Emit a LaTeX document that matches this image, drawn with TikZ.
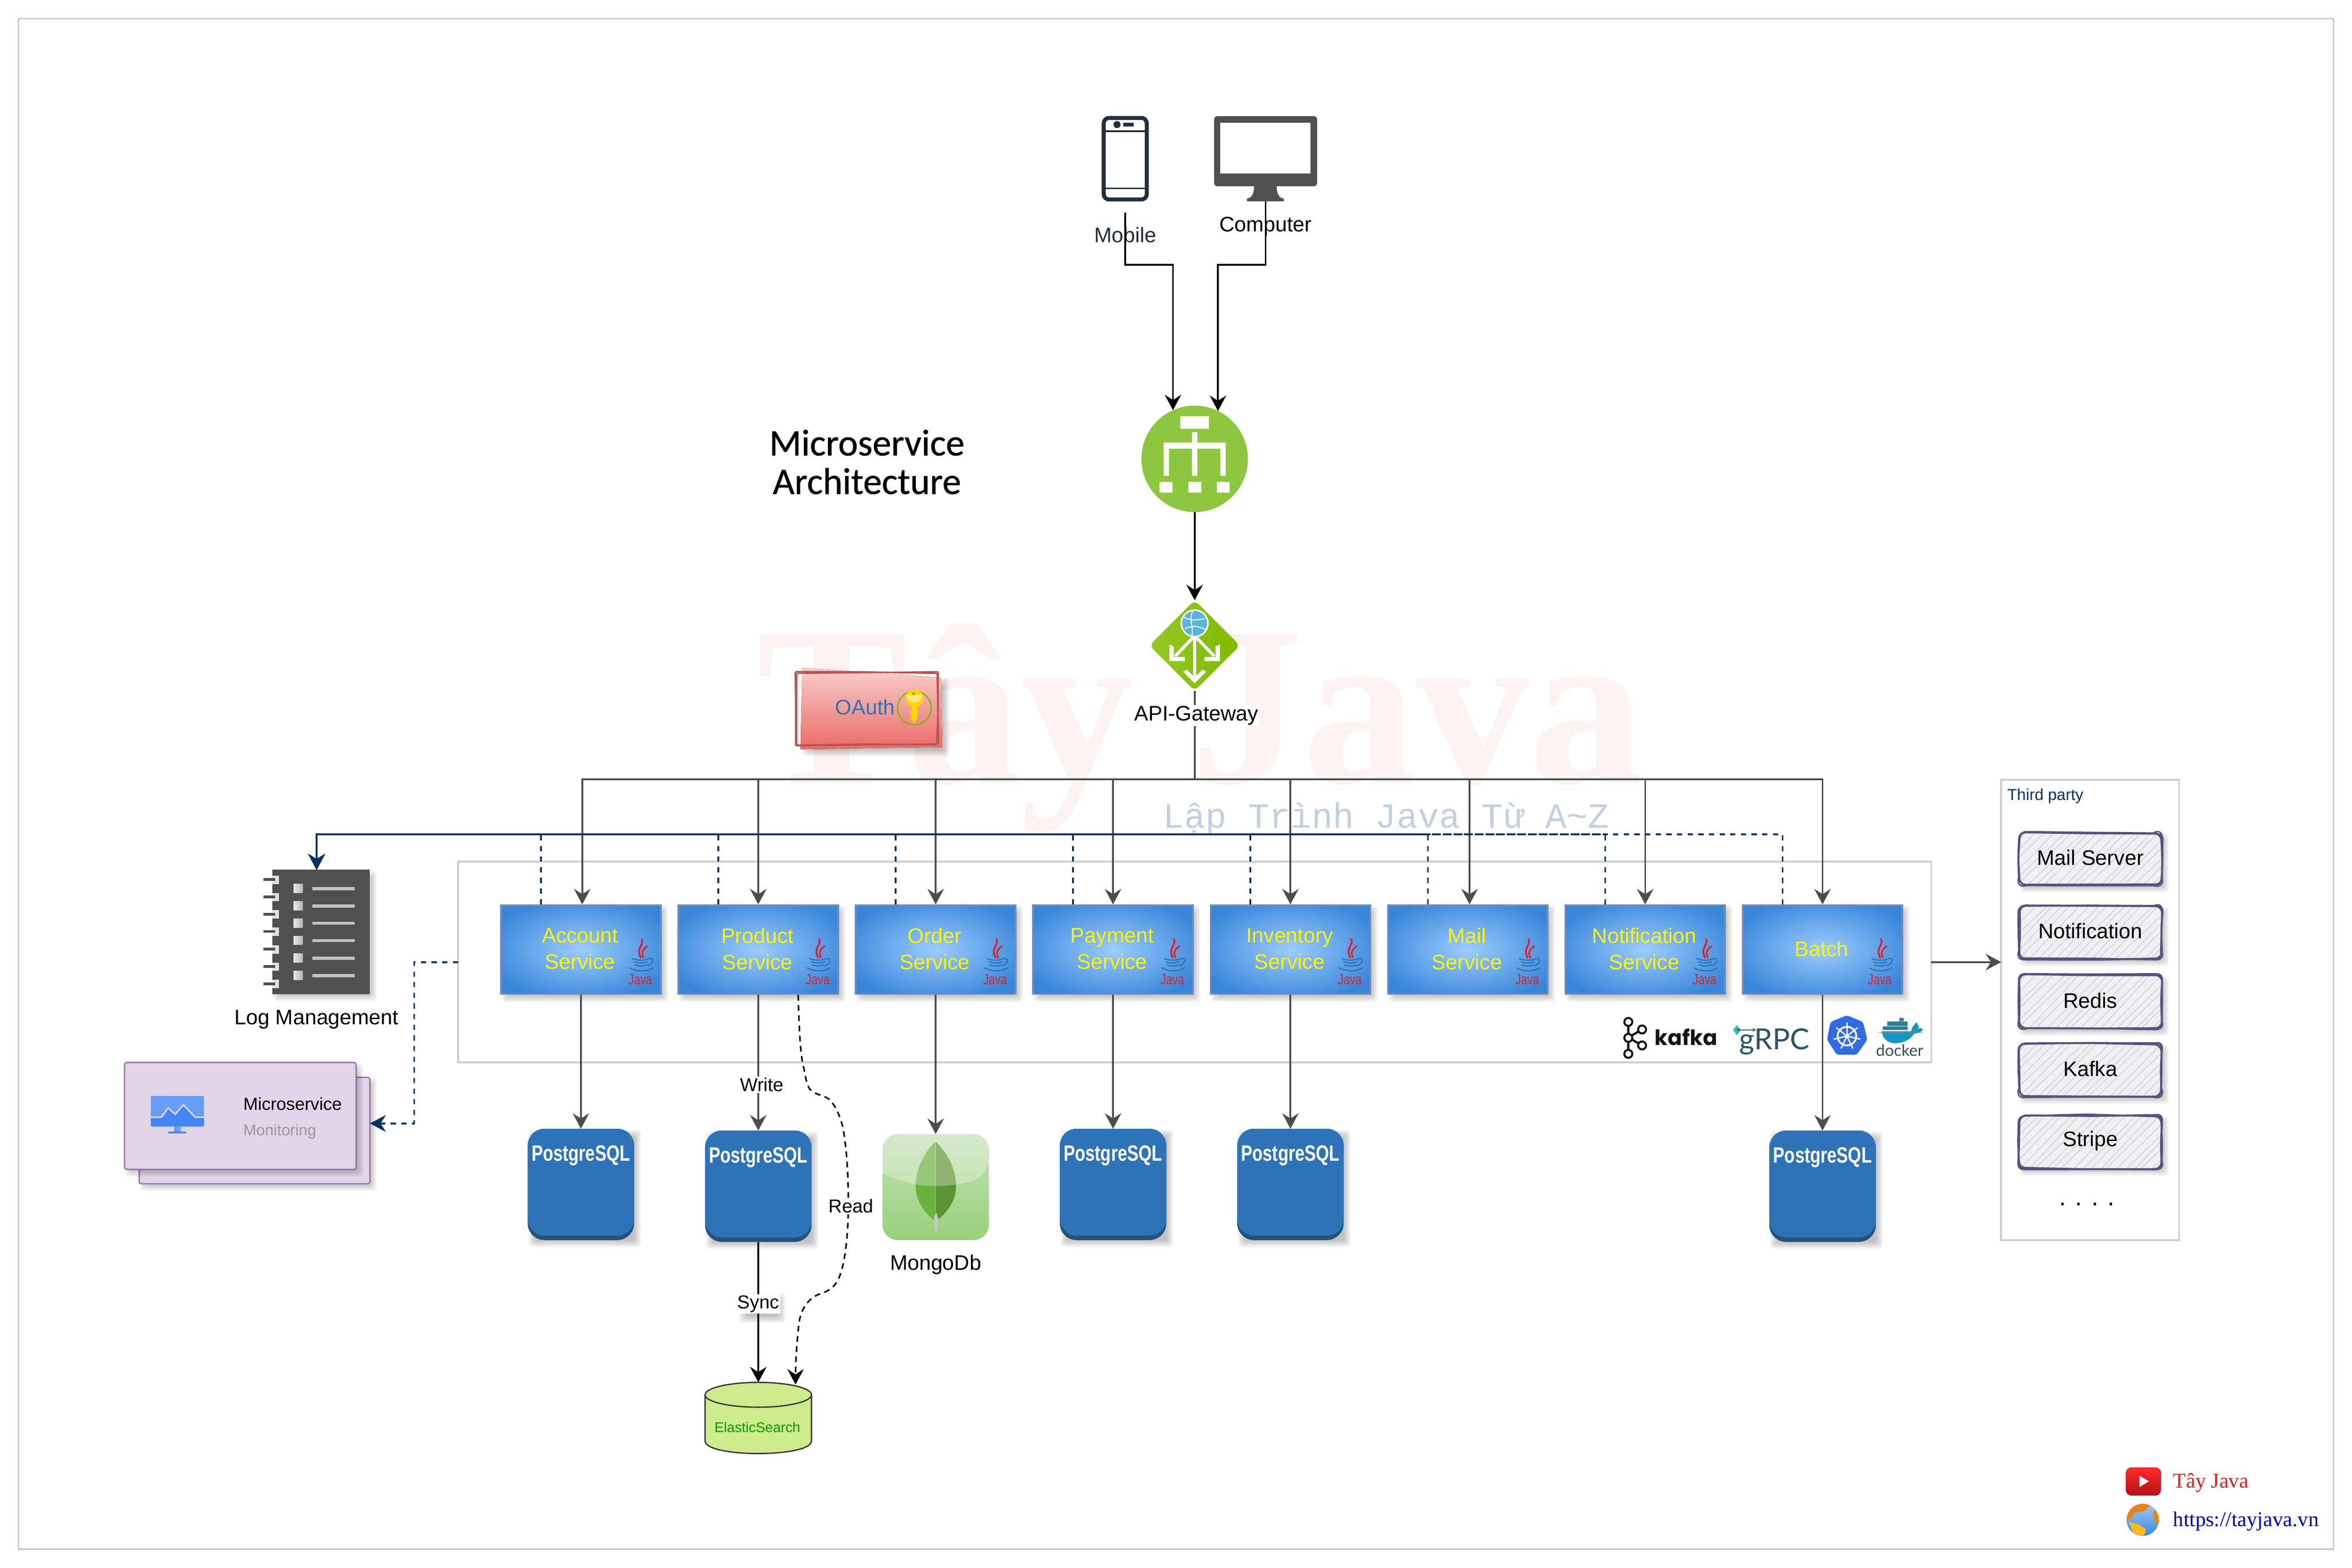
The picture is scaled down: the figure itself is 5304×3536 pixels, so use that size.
\documentclass[tikz,border=0pt]{standalone}
\usepackage{fontspec}
\usepackage{graphicx}
\usetikzlibrary{arrows.meta,shapes.geometric,calc}
\setmainfont{Liberation Sans}
\newfontfamily\wserif{Liberation Serif}
\newfontfamily\wmono{Liberation Mono}
\newfontfamily\titlefont[FakeBold=0.7]{Carlito}
\newfontfamily\popfont{Poppins}
\newfontfamily\latofont{Lato}
\definecolor{cline}{HTML}{4D4D4D}
\definecolor{navy}{HTML}{003366}
\definecolor{grayb}{HTML}{CCCCCC}
\definecolor{phone}{HTML}{232F3E}
\definecolor{lbg}{HTML}{8DC63F}
\definecolor{pgblue}{HTML}{2E73B8}
\definecolor{pgdark}{HTML}{23527F}
\definecolor{svcin}{HTML}{9CCCFE}
\definecolor{svcout}{HTML}{3885D9}
\definecolor{svcb}{HTML}{6C8EBF}
\definecolor{skline}{HTML}{56517E}
\definecolor{skhatch}{HTML}{D3D1EA}
\definecolor{javar}{HTML}{E21F26}
\definecolor{javab}{HTML}{2070AE}
\definecolor{cglobe}{HTML}{59B4D9}
\definecolor{cleaf}{HTML}{7FBA00}
\definecolor{ckey}{HTML}{FFD400}
\definecolor{ckeyl}{HTML}{FFE785}
\definecolor{ckeyd}{HTML}{B8860B}
\definecolor{cpurp}{HTML}{9673A6}
\definecolor{cmauve}{HTML}{E1D5E7}
\definecolor{cicona}{HTML}{669DF6}
\definecolor{ciconb}{HTML}{4285F4}
\definecolor{cla}{HTML}{6BB13F}
\definecolor{clb}{HTML}{5C9634}
\definecolor{ces}{HTML}{CDEB8B}
\definecolor{cesl}{HTML}{36393D}
\definecolor{cesg}{HTML}{009900}
\definecolor{ctr}{HTML}{DD2222}
\definecolor{curl}{HTML}{0000CC}
\definecolor{cga}{HTML}{A6C8E8}
\definecolor{cgb}{HTML}{2E8CF0}
\definecolor{corg}{HTML}{E9841A}
\definecolor{cyel}{HTML}{FBB81F}
\definecolor{cdka}{HTML}{2A7E96}
\definecolor{cdkb}{HTML}{1796C5}
\definecolor{cdkt}{HTML}{394D54}
\definecolor{ckube}{HTML}{326CE5}
\definecolor{cgra}{HTML}{3DBFB4}
\definecolor{cgrb}{HTML}{1F6E75}
\definecolor{cgrc}{HTML}{2A5566}
\definecolor{cmt}{HTML}{C4E2B5}
\definecolor{cmb}{HTML}{97D17A}
\definecolor{cot}{HTML}{F8CECC}
\definecolor{cob}{HTML}{EA6B66}
\definecolor{coln}{HTML}{B85450}
\definecolor{cyt}{HTML}{FF2A2A}
\definecolor{cyb}{HTML}{B31217}
\definecolor{cgl}{HTML}{95C825}
\definecolor{cgr}{HTML}{7FBA00}
\definecolor{cwm}{HTML}{FCF2F1}
\definecolor{csub}{HTML}{C2D0E1}
\definecolor{cdark}{HTML}{505050}
\pgfdeclareradialshading{svcshade}{\pgfpoint{0bp}{0bp}}{color(0bp)=(svcin); color(30bp)=(svcout); color(100bp)=(svcout)}
\newcommand\fa{\fontsize{13.5}{16.8}\selectfont}
\newcommand\fb{\fontsize{12}{14}\selectfont}
\newcommand\softshadow[4]{%
  \foreach \s in {-8,-5,-2,1,4,7}{%
    \fill[black,opacity=.045,rounded corners=.08cm] ({#1+9-\s},{#2+9-\s}) rectangle ({#3+9+\s},{#4+9+\s});}}
\newcommand\javalogo[2]{%
  \draw[javar,line width=.04cm,line cap=round] ({#1+29},{#2}) .. controls ({#1+36},{#2+12}) and ({#1+15},{#2+20}) .. ({#1+27},{#2+42});
  \draw[javar,line width=.035cm,line cap=round] ({#1+42},{#2+16}) .. controls ({#1+34},{#2+22}) and ({#1+26},{#2+28}) .. ({#1+33},{#2+42});
  \draw[javab,line width=.022cm,line cap=round]
    ({#1+8},{#2+44}) .. controls ({#1+18},{#2+49}) and ({#1+36},{#2+49}) .. ({#1+46},{#2+44})
    ({#1+12},{#2+51}) .. controls ({#1+20},{#2+55}) and ({#1+34},{#2+55}) .. ({#1+42},{#2+51})
    ({#1+14},{#2+58}) .. controls ({#1+20},{#2+62}) and ({#1+34},{#2+62}) .. ({#1+40},{#2+58})
    ({#1+46},{#2+44}) .. controls ({#1+58},{#2+42}) and ({#1+56},{#2+56}) .. ({#1+42},{#2+60})
    ({#1+2},{#2+65}) .. controls ({#1+18},{#2+74}) and ({#1+40},{#2+74}) .. ({#1+54},{#2+65});
  \node[inner sep=0,text=javar] at ({#1+26},{#2+91}) {\scalebox{.76}[1]{\fontsize{9.5}{10}\selectfont Java}};}
\newcommand\svc[4]{% name, left, text, java x offset
  \softshadow{#2}{2040}{#2+362}{2244}
  \node[svcbox] (#1) at ({#2+181},2142) {};
  \node[svctext] (#1t) at ({#2+179},2140) {#3};
  \javalogo{#2+#4}{2118}}
\newcommand\pgbox[3]{% name, cx, top
  \softshadow{#2-120}{#3}{#2+120}{#3+251}
  \node[pgnode] (#1) at (#2,{#3+125.5}) {};
  \fill[pgblue,rounded corners=.38cm] ({#2-120},#3) rectangle ({#2+120},{#3+241});
  \node[inner sep=0,text=white,anchor=base] (#1t) at (#2,{#3+73}) {\scalebox{.77}[1]{\fontsize{14.2}{16}\selectfont\bfseries PostgreSQL}};}
\newcommand\roughrect[6]{% colour/width options, x1 y1 x2 y2, jitter
  \draw[#1] ({#2+#6*rand},{#3+#6*rand}) -- ({(#2+#4)/2+20*rand},{#3+#6*rand}) -- ({#4+#6*rand},{#3+#6*rand}) -- ({#4+#6*rand},{(#3+#5)/2+8*rand}) -- ({#4+#6*rand},{#5+#6*rand}) -- ({(#2+#4)/2+20*rand},{#5+#6*rand}) -- ({#2+#6*rand},{#5+#6*rand}) -- ({#2+#6*rand},{(#3+#5)/2+8*rand}) -- cycle;}
\newcommand\sketchbox[7]{% name x1 y1 x2 y2 text seed
  \softshadow{#2}{#3}{#4}{#5}
  \fill[black!6,rounded corners=.1cm] (#2,#3) rectangle (#4,#5);
  \pgfmathsetseed{#7}
  \begin{scope}
    \clip (#2,#3) rectangle (#4,#5);
    \foreach \k in {-120,-100,...,340}{%
      \draw[skhatch,line width=.02cm] ({#2+\k+6*rand},#5) -- ({#2+\k+120+6*rand},#3);}
  \end{scope}
  \roughrect{skline,line width=.045cm,rounded corners=.16cm}{#2}{#3}{#4}{#5}{2}
  \roughrect{skline,line width=.035cm,rounded corners=.12cm}{#2}{#3}{#4}{#5}{3}
  \draw[skline,line width=.03cm] ({#4-18},#3) .. controls ({#4-4},{#3-7}) and ({#4+5},{#3+3}) .. (#4,{#3+20})
    ({#2+18},#5) .. controls ({#2+4},{#5+6}) and ({#2-7},{#5-3}) .. (#2,{#5-20})
    ({#4-20},#5) .. controls ({#4-4},{#5+6}) and ({#4+6},{#5-4}) .. (#4,{#5-18});
  \node[font=\fa,inner sep=0] (#1) at ({(#2+#4)/2},{(#3+#5)/2-3}) {#6};}
\tikzset{
  x=0.01cm,y=-0.01cm,
  svcbox/.style={rectangle,draw=svcb,line width=.04cm,minimum width=3.6cm,minimum height=2cm,inner sep=0,outer sep=.02cm,shading=svcshade},
  svctext/.style={inner sep=0,text=yellow,font=\fa,align=center},
  pgnode/.style={rectangle,fill=pgdark,rounded corners=.38cm,minimum width=2.4cm,minimum height=2.51cm,inner sep=0,outer sep=0},
  cn/.style={cline,line width=.04cm,-{Stealth[length=.35cm,width=.37cm,inset=.12cm]}},
  cnk/.style={black,line width=.04cm,-{Stealth[length=.35cm,width=.37cm,inset=.12cm]}},
  dsh/.style={navy,line width=.04cm,dash pattern=on .12cm off .12cm,-{Stealth[length=.36cm,width=.38cm,inset=.12cm]}},
  lab/.style={font=\fa,inner sep=0},
  elab/.style={font=\fb,fill=white,inner sep=.03cm},
  ghost/.style={rectangle,inner sep=0,outer sep=0},
}
\begin{document}
\begin{tikzpicture}
\useasboundingbox (0,0) rectangle (5304,3536);
\fill[white] (0,0) rectangle (5304,3536);
\draw[grayb,line width=.04cm] (42,42) rectangle (5262,3494);
% watermark
\node[anchor=base west,inner sep=0,text=cwm] (wm) at (1706,1766) {\wserif\bfseries\fontsize{145}{145}\selectfont Tây Java};
\node[anchor=base west,inner sep=0,text=csub] (wm2) at (2622,1867) {\wmono\fontsize{22.7}{24}\selectfont Lập Trình Java Từ A\textasciitilde Z};
% title
\node[align=center,inner sep=0,font=\titlefont\fontsize{24}{24.7}\selectfont] (title) at (1955,1042) {Microservice\\Architecture};
% phone
\node[ghost,minimum width=1.05cm,minimum height=1.92cm] (mobile) at (2537,358) {};
\draw[phone,line width=.09cm,rounded corners=.12cm] (2489,266) rectangle (2586,450);
\draw[phone,line width=.035cm] (2489,296) -- (2586,296) (2489,425) -- (2586,425);
\fill[phone] (2519,281) circle[radius=8];
\fill[phone] (2533,277) rectangle (2557,285);
% monitor
\node[ghost,minimum width=2.32cm,minimum height=1.92cm] (computer) at (2854,358) {};
\fill[cdark,rounded corners=.07cm] (2738,262) rectangle (2970,420);
\fill[white] (2752,277) rectangle (2955,391);
\fill[cdark] (2828,418) -- (2879,418) .. controls (2879,440) and (2885,446) .. (2895,448) -- (2895,454) -- (2812,454) -- (2812,448) .. controls (2822,446) and (2828,440) .. (2828,418) -- cycle;
\node[lab,text=phone] (mobilel) at (2538,530) {Mobile};
\node[lab] (computerl) at (2854,511) {Computer};
% load balancer
\node[circle,fill=lbg,minimum size=2.4cm,inner sep=0,outer sep=0] (lb) at (2694,1035) {};
\fill[white] (2662,939) rectangle (2726,967)
  (2688,975) rectangle (2700,1073)
  (2624,998) rectangle (2764,1012)
  (2624,998) rectangle (2636,1073)
  (2752,998) rectangle (2764,1073)
  (2615,1087) rectangle (2644,1111)
  (2680,1087) rectangle (2709,1111)
  (2744,1087) rectangle (2773,1111);
% gateway
\node[diamond,aspect=1,minimum size=2.04cm,inner sep=0,outer sep=0,rounded corners=.12cm,left color=cgl,right color=cgr] (gw) at (2694,1456) {};
\draw[white,line width=.07cm] (2694,1430) -- (2694,1532) (2694,1434) -- (2650,1480) (2694,1434) -- (2738,1480);
\fill[white] (2668,1515) -- (2694,1541) -- (2720,1515) -- (2712,1510) -- (2694,1528) -- (2676,1510) -- cycle;
\fill[white] (2637,1454) -- (2647,1458) -- (2647,1482) -- (2672,1482) -- (2672,1491) -- (2637,1491) -- cycle;
\fill[white] (2751,1454) -- (2741,1458) -- (2741,1482) -- (2716,1482) -- (2716,1491) -- (2751,1491) -- cycle;
\fill[cglobe] (2694,1406) circle[radius=30];
\draw[white,line width=.035cm] (2694,1406) circle[radius=30];
\draw[white,line width=.022cm] (2670,1392) .. controls (2685,1400) and (2695,1400) .. (2718,1395) (2672,1418) .. controls (2690,1410) and (2702,1412) .. (2718,1420) (2690,1378) .. controls (2680,1395) and (2692,1415) .. (2688,1434);
% OAuth
\softshadow{1809}{1528}{2125}{1690}
\fill[top color=cot,bottom color=cob] (1809,1506) -- (2121,1528) -- (2125,1685) -- (1805,1690) -- cycle;
\pgfmathsetseed{17}
\roughrect{coln,line width=.035cm,rounded corners=.02cm}{1794}{1517}{2115}{1680}{2}
\roughrect{coln,line width=.03cm,rounded corners=.02cm}{1794}{1517}{2115}{1680}{3}
\node[lab,text=pgblue] (oauth) at (1951,1595) {OAuth};
\draw[cleaf,line width=.03cm] (2062,1597) circle[radius=38];
\fill[ckey] (2062,1575) circle[radius=20];
\fill[ckey] (2055,1590) -- (2069,1590) -- (2069,1622) -- (2062,1630) -- (2052,1620) -- (2056,1614) -- (2051,1608) -- (2056,1602) -- cycle;
\fill[ckeyl] (2044,1568) -- (2080,1568) .. controls (2078,1590) and (2046,1590) .. (2044,1568);
\fill[ckeyd] (2060,1565) circle[radius=3];
% container
\node[rectangle,draw=grayb,line width=.04cm,minimum width=33.2cm,minimum height=4.53cm,inner sep=0,outer sep=0] (cont) at (2694,2170) {};
% services
\svc{acc}{1129}{Account\\Service}{289}
\svc{prod}{1529}{Product\\Service}{289}
\svc{ord}{1929}{Order\\Service}{289}
\svc{pay}{2329}{Payment\\Service}{289}
\svc{inv}{2729}{Inventory\\Service}{289}
\svc{mail}{3129}{Mail\\Service}{289}
\svc{noti}{3529}{Notification\\Service}{289}
\svc{batch}{3929}{Batch}{284}
% kafka logo
\node[ghost,minimum width=.6cm,minimum height=.95cm] (kafkaicon) at (3687,2340) {};
\draw[black!92,line width=.05cm] (3672,2305) -- (3672,2377) (3672,2340) -- (3703,2322) (3672,2340) -- (3703,2358);
\foreach \p in {(3672,2305),(3672,2341),(3672,2377),(3703,2322),(3703,2358)}{\draw[black!92,fill=white,line width=.045cm] \p circle[radius=9];}
\node[inner sep=0,text=black!92] (kafka) at (3802,2339) {\popfont\bfseries\fontsize{13.6}{14}\selectfont kafka};
% kube
\fill[ckube,rounded corners=.05cm] (4165,2290) -- (4201,2305) -- (4211,2345) -- (4187,2379) -- (4142,2379) -- (4120,2345) -- (4128,2305) -- cycle;
\draw[white,line width=.04cm] (4165,2337) circle[radius=21];
\fill[white] (4165,2337) circle[radius=5];
\foreach \a in {90,141.4,192.9,244.3,295.7,347.1,38.6}{\draw[white,line width=.03cm] (4165,2337) -- ++({31*cos(\a)},{-31*sin(\a)});}
% docker
\fill[cdka] (4283,2296) rectangle (4293,2303) (4256,2304) rectangle (4302,2314) (4246,2315) rectangle (4302,2323);
\fill[cdkb] (4243,2326) -- (4310,2326) .. controls (4310,2318) and (4316,2312) .. (4322,2306) .. controls (4326,2312) and (4328,2316) .. (4326,2320) .. controls (4330,2318) and (4334,2319) .. (4336,2322) .. controls (4330,2332) and (4322,2330) .. (4316,2332) .. controls (4305,2348) and (4290,2353) .. (4272,2353) .. controls (4255,2352) and (4246,2342) .. (4243,2326) -- cycle;
\draw[black!45,line width=.012cm] (4236,2329) -- (4335,2329);
\node[inner sep=0,text=cdkt] (docker) at (4284,2369) {\latofont\fontsize{10.2}{11}\selectfont docker};
% log notebook
\softshadow{614}{1962}{834}{2242}
\node[ghost,fill=cdark,minimum width=2.2cm,minimum height=2.8cm] (log) at (724,2102) {};
\foreach \r in {1984,2023,2062,2101,2141,2180,2219}{%
  \fill[black!12] (614,{\r-9}) rectangle (629,{\r+10});
  \fill[cdark] (594,{\r-3}) rectangle (621,{\r+3});}
\foreach \r in {2004,2043,2082,2121,2161,2200}{%
  \fill[left color=black!8,right color=black!30] (662,{\r-10}) rectangle (683,{\r+10});
  \fill[black!24] (704,{\r-3}) rectangle (800,{\r+4});}
\node[lab] (logl) at (714,2299) {Log Management};
% monitoring card
\softshadow{314}{2430}{834}{2670}
\node[rectangle,draw=cpurp,fill=cmauve,line width=.03cm,rounded corners=.05cm,minimum width=5.2cm,minimum height=2.4cm,inner sep=0,outer sep=0] (monb) at (574,2550) {};
\softshadow{281}{2397}{803}{2638}
\node[rectangle,draw=cpurp,fill=cmauve,line width=.03cm,rounded corners=.05cm,minimum width=5.22cm,minimum height=2.41cm,inner sep=0,outer sep=0] (monf) at (542,2517) {};
\fill[cicona,rounded corners=.03cm] (340,2472) rectangle (460,2541);
\fill[ciconb,rounded corners=.03cm] (340,2520) -- (364,2520) -- (379,2499) -- (395,2513) -- (414,2492) -- (440,2520) -- (460,2520) -- (460,2541) -- (340,2541) -- cycle;
\draw[cmauve,line width=.035cm] (340,2520) -- (364,2520) -- (379,2499) -- (395,2513) -- (414,2492) -- (440,2520) -- (460,2520);
\fill[cicona] (393,2541) rectangle (407,2552);
\fill[ciconb] (380,2552) rectangle (420,2556);
\node[anchor=west,inner sep=0,font=\fontsize{11.25}{13}\selectfont] (msn) at (548,2490) {Microservice};
\node[anchor=west,inner sep=0,font=\fontsize{10}{12}\selectfont,text=black!40] (msm) at (548,2552) {Monitoring};
% DBs
\pgbox{pgacc}{1310}{2546}
\pgbox{pgprod}{1710}{2550}
\pgbox{pgpay}{2510}{2546}
\pgbox{pginv}{2910}{2546}
\pgbox{pgbatch}{4110}{2550}
% mongo
\node[rectangle,rounded corners=.35cm,minimum width=2.4cm,minimum height=2.39cm,inner sep=0,outer sep=0,top color=cmt,bottom color=cmb] (mongo) at (2110,2677.5) {};
\fill[cla] (2109,2575) .. controls (2080,2605) and (2065,2640) .. (2065,2675) .. controls (2065,2710) and (2085,2735) .. (2106,2752) -- (2109,2752) -- cycle;
\fill[clb] (2110,2575) .. controls (2140,2605) and (2156,2640) .. (2156,2675) .. controls (2156,2710) and (2135,2735) .. (2114,2752) -- (2110,2752) -- cycle;
\fill[black!22] (2106,2745) -- (2112,2735) -- (2116,2750) -- (2113,2779) -- (2109,2779) -- cycle;
\fill[white,opacity=.3,rounded corners=.35cm] (1990,2647) -- (1990,2558) -- (2230,2558) -- (2230,2647) [sharp corners] .. controls (2180,2668) and (2150,2675) .. (2110,2675) .. controls (2070,2675) and (2040,2668) .. (1990,2647) -- cycle;
\node[lab] (mongol) at (2110,2852) {MongoDb};
% elastic
\node[ghost,minimum width=2.4cm,minimum height=1.6cm] (es) at (1710,3198) {};
\fill[ces] (1590,3146) .. controls (1590,3108) and (1830,3108) .. (1830,3146) -- (1830,3250) .. controls (1830,3288) and (1590,3288) .. (1590,3250) -- cycle;
\draw[cesl,line width=.03cm] (1590,3146) -- (1590,3250) .. controls (1590,3288) and (1830,3288) .. (1830,3250) -- (1830,3146) (1710,3146) ellipse[x radius=120,y radius=28];
\node[inner sep=0,text=cesg,font=\fontsize{9}{10}\selectfont] (esl) at (1708,3219) {ElasticSearch};
% third party
\node[rectangle,draw=grayb,line width=.04cm,minimum width=4.01cm,minimum height=10.38cm,inner sep=0,outer sep=0] (tp) at (4713.5,2278) {};
\node[anchor=west,inner sep=0,text=navy,font=\fontsize{10.2}{12}\selectfont] (tpl) at (4526,1796) {Third party};
\sketchbox{smail}{4553}{1878}{4875}{1997}{Mail Server}{3}
\sketchbox{snoti}{4553}{2043}{4875}{2163}{Notification}{5}
\sketchbox{sredis}{4553}{2199}{4875}{2320}{Redis}{8}
\sketchbox{skafka}{4553}{2354}{4875}{2474}{Kafka}{13}
\sketchbox{sstripe}{4553}{2516}{4875}{2636}{Stripe}{21}
\node[inner sep=0,font=\fontsize{16}{16}\selectfont] (dots) at (4706,2716) {. . . .};
% footer
\fill[top color=cyt,bottom color=cyb,rounded corners=.12cm] (4794,3310) rectangle (4873,3373);
\fill[white] (4825,3329) -- (4846,3341) -- (4825,3354) -- cycle;
\node[anchor=base west,inner sep=0,text=ctr,font=\wserif\fontsize{13.5}{15}\selectfont] (ytl) at (4900,3356) {Tây Java};
\fill[top color=cga,bottom color=cgb] (4832,3428) circle[radius=36];
\begin{scope}
 \clip (4832,3428) circle[radius=36];
 \fill[corg] (4796,3400) -- (4825,3388) -- (4850,3395) -- (4836,3408) -- (4815,3412) -- (4806,3425) -- (4796,3430) -- cycle;
 \fill[cyel] (4800,3432) -- (4822,3438) -- (4840,3450) -- (4832,3470) -- (4812,3462) -- cycle;
 \fill[corg] (4858,3404) -- (4870,3410) -- (4870,3440) -- (4860,3436) -- (4855,3420) -- cycle;
\end{scope}
\node[anchor=base west,inner sep=0,text=curl,font=\wserif\fontsize{13.5}{15}\selectfont] (url) at (4900,3443) {https://tayjava.vn};
% connectors
\draw[cnk] ([yshift=-.25cm]mobile.south) |- (lb.114 |- 0,597) -- (lb.114);
\draw[cnk] (computer.south) |- (lb.64 |- 0,597) -- (lb.64);
\draw[cnk] (lb.south) -- (gw.north);
\foreach \t/\d in {acc/.03cm,prod/0cm,ord/0cm,pay/0cm,inv/0cm,mail/.04cm,noti/0cm,batch/0cm}{%
  \draw[cn] (gw.south) -- (gw.south |- 0,1758) -| ([xshift=\d]\t.north);}
\foreach \t in {acc,prod,ord,pay,inv,mail,noti,batch}{%
  \draw[dsh] ([xshift=-.9cm]\t.north) -- ([xshift=-.9cm]\t.north |- 0,1882) -| ([xshift=-.1cm]log.north);}
\draw[cn] (acc.south) -- (pgacc.north);
\draw[cn] (prod.south) -- (pgprod.north);
\draw[cn] (ord.south) -- (mongo.north);
\draw[cn] (pay.south) -- (pgpay.north);
\draw[cn] (inv.south) -- (pginv.north);
\draw[cn] (batch.south) -- (pgbatch.north);
\draw[cnk] (pgprod.south) -- (es.north);
\draw[black,line width=.035cm,dash pattern=on .13cm off .1cm,-{Stealth[length=.35cm,width=.37cm,inset=.12cm]}]
  ([xshift=.9cm]prod.south) .. controls (1802,2330) and (1806,2390) .. (1813,2410) .. controls (1818,2440) and (1822,2455) .. (1830,2460) .. controls (1845,2472) and (1862,2470) .. (1873,2483) .. controls (1888,2500) and (1897,2525) .. (1902,2549) .. controls (1910,2600) and (1913,2650) .. (1913,2715) .. controls (1913,2790) and (1905,2845) .. (1896,2871) .. controls (1888,2900) and (1870,2912) .. (1850,2918) .. controls (1830,2925) and (1805,2945) .. (1801,2991) .. controls (1797,3030) and (1794,3070) .. ([xshift=.84cm,yshift=-.05cm]es.north);
\draw[cn] (cont.east) -- (cont.east -| tp.west);
\draw[dsh] (cont.west) -- ++(-99,0) |- ([yshift=.16cm]monb.east);
\softshadow{1665}{2915}{1755}{2968}
\node[elab] (lwrite) at (1718,2447) {Write};
\node[elab] (lread) at (1919,2720) {Read};
\node[elab] (lsync) at (1710,2941) {Sync};
\node[lab,fill=white,inner sep=.02cm] (gwl) at (2698,1614) {API-Gateway};
% grpc
\fill[cgra] (3917,2312) -- (3926,2323) -- (3917,2335) -- (3908,2323) -- cycle;
\draw[cgrb,line width=.02cm,{Stealth[length=.08cm,width=.09cm]}-{Stealth[length=.08cm,width=.09cm]}] (3915,2323) -- (3960,2323);
\node[inner sep=0,anchor=base west,text=cgrc] (grpct) at (3922,2367) {\latofont\fontsize{18.6}{20}\selectfont gRPC};
\end{tikzpicture}
\end{document}
